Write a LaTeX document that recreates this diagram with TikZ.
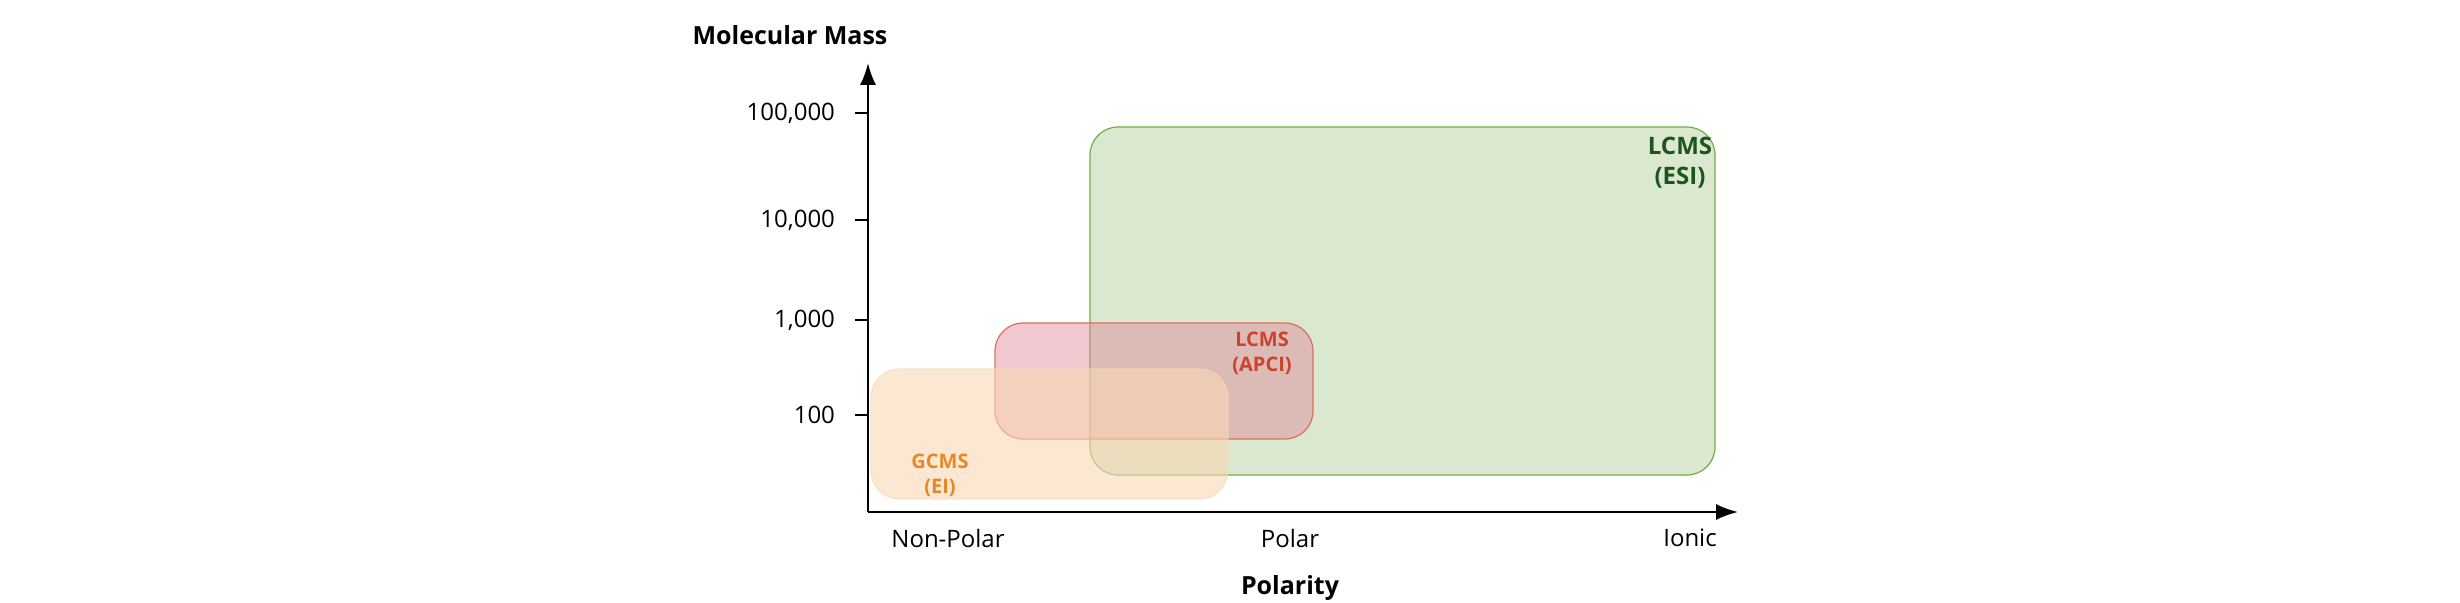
\documentclass[tikz,border=0pt]{standalone}
\usepackage{fontspec}
\setmainfont{Open Sans}
\usetikzlibrary{arrows.meta}
\begin{document}
\begin{tikzpicture}[x=0.5pt,y=-0.5pt,
  lbl/.style={font=\fontsize{12}{14}\selectfont},
  ttl/.style={font=\fontsize{12.5}{15}\selectfont\bfseries},
  box/.style={rounded corners=14pt,line width=0.6pt}]
\useasboundingbox (0,0) rectangle (2460,603);
% regions
\draw[box,draw={rgb,255:red,112;green,173;blue,71},fill={rgb,255:red,217;green,232;blue,207}] (1090,127) rectangle (1715,475);
\draw[box,draw={rgb,255:red,222;green,110;blue,90},fill={rgb,255:red,225;green,130;blue,150},fill opacity=0.45] (995,323) rectangle (1313,439);
\draw[box,draw={rgb,255:red,250;green,215;blue,180},fill={rgb,255:red,250;green,215;blue,180},fill opacity=0.6,draw opacity=0.6] (871,369) rectangle (1228,499);
% axes
\coordinate (o) at (868,512);
\coordinate (yt) at (868,63);
\coordinate (xt) at (1738,512);
\draw[line width=1pt,-{Latex[length=11pt,width=8pt]}] (o) -- (yt);
\draw[line width=1pt,-{Latex[length=11pt,width=8pt]}] (o) -- (xt);
\foreach \y/\t in {113/{100,000},220/{10,000},320/{1,000},415/{100}}{
  \draw[line width=0.8pt] (855,\y) -- (868,\y);
  \node[lbl,anchor=east] at (842,\y) {\t};
}
\node[ttl] (ym) at (790,35) {Molecular Mass};
\node[lbl] (np) at (948,538) {Non-Polar};
\node[lbl] (po) at (1290,538) {Polar};
\node[lbl] (io) at (1690,538) {Ionic};
\node[ttl] (px) at (1290,588) {Polarity};
% labels
\node[align=center,text={rgb,255:red,230;green,135;blue,40},font=\fontsize{10}{12.5}\selectfont\bfseries] (gc) at (940,475) {GCMS\\(EI)};
\node[align=center,text={rgb,255:red,205;green,65;blue,45},font=\fontsize{10}{12.5}\selectfont\bfseries] (ap) at (1262,353) {LCMS\\(APCI)};
\node[align=center,text={rgb,255:red,30;green,85;blue,30},font=\fontsize{12}{15}\selectfont\bfseries] (es) at (1680,163) {LCMS\\(ESI)};
\end{tikzpicture}
\end{document}
